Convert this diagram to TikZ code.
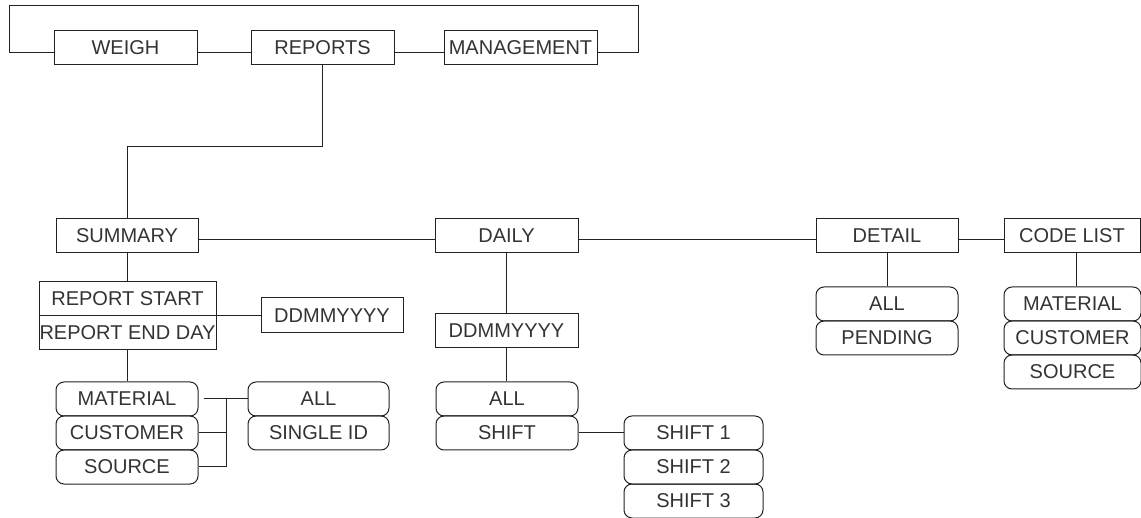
\documentclass[tikz,border=0pt]{standalone}
\usepackage{fontspec}
\setmainfont{Liberation Sans}
\definecolor{linec}{HTML}{222222}
\definecolor{txt}{HTML}{333333}
\tikzset{
  box/.style={draw=linec, line width=1pt, minimum height=34pt, inner sep=0pt,
    text=txt, font=\fontsize{20}{23}\selectfont},
  rbox/.style={box, rounded corners=8pt},
  conn/.style={draw=linec, line width=1pt},
}
\begin{document}
\begin{tikzpicture}[x=1pt,y=-1pt]
\useasboundingbox (0,0) rectangle (1141,518);
% top row
\node[box, minimum width=143pt] (weigh) at (125.5,48) {WEIGH};
\node[box, minimum width=143pt] (reports) at (322.5,48) {REPORTS};
\node[box, minimum width=153pt] (manage) at (520.5,48) {MANAGEMENT};
\coordinate (lt) at (9,6);
\coordinate (rt) at (638,6);
\draw[conn] ([yshift=-5pt]weigh.west) -| (lt) -- (rt) |- ([yshift=-5pt]manage.east);
\draw[conn] ([yshift=-5pt]weigh.east) -- ([yshift=-5pt]reports.west);
\draw[conn] ([yshift=-5pt]reports.east) -- ([yshift=-5pt]manage.west);
% second row
\node[box, minimum width=142pt] (summary) at (127,236) {SUMMARY};
\node[box, minimum width=143pt] (daily) at (506.5,236) {DAILY};
\node[box, minimum width=142pt] (detail) at (887,236) {DETAIL};
\node[box, minimum width=136pt] (codelist) at (1072,236) {CODE LIST};
\coordinate (rj) at (323,147);
\draw[conn] (reports.south) -- (reports.south |- rj) -| (summary.north);
\draw[conn] ([yshift=-4pt]summary.east) -- ([yshift=-4pt]daily.west);
\draw[conn] ([yshift=-4pt]daily.east) -- ([yshift=-4pt]detail.west);
\draw[conn] ([yshift=-4pt]detail.east) -- ([yshift=-4pt]codelist.west);
% summary branch
\node[box, minimum width=177pt] (rstart) at (127.5,299) {REPORT START};
\node[box, minimum width=177pt] (rend) at (127.5,333) {REPORT END DAY};
\node[box, minimum width=142pt, minimum height=35pt] (dd1) at (332,315.5) {DDMMYYYY};
\draw[conn] (summary.south) -- (summary.south |- rstart.north);
\draw[conn] (dd1.west) -- (dd1.west -| rstart.east);
\node[rbox, minimum width=142pt] (mat1) at (127,399) {MATERIAL};
\node[rbox, minimum width=142pt] (cust1) at (127,433) {CUSTOMER};
\node[rbox, minimum width=142pt] (src1) at (127,467) {SOURCE};
\draw[conn] (rend.south) -- (rend.south |- mat1.north);
\node[rbox, minimum width=141pt] (all1) at (318.5,399) {ALL};
\node[rbox, minimum width=141pt] (single1) at (318.5,433) {SINGLE ID};
\coordinate (j1) at (226,399);
\draw[conn] ([xshift=5pt]mat1.east) -- (all1.west);
\draw[conn] (j1) |- (src1.east);
\draw[conn] (cust1.east) -- (cust1.east -| j1);
% daily branch
\node[box, minimum width=143pt] (dd2) at (506.5,331) {DDMMYYYY};
\draw[conn] (daily.south) -- (dd2.north);
\node[rbox, minimum width=142pt] (all2) at (507,399) {ALL};
\node[rbox, minimum width=142pt] (shift) at (507,433) {SHIFT};
\draw[conn] (dd2.south) -- (dd2.south |- all2.north);
\node[rbox, minimum width=139pt] (s1) at (693.5,433) {SHIFT 1};
\node[rbox, minimum width=139pt] (s2) at (693.5,467) {SHIFT 2};
\node[rbox, minimum width=139pt] (s3) at (693.5,501) {SHIFT 3};
\draw[conn] (shift.east) -- (s1.west);
% detail branch
\node[rbox, minimum width=142pt] (all3) at (887,304) {ALL};
\node[rbox, minimum width=142pt] (pend) at (887,338) {PENDING};
\draw[conn] (detail.south) -- (all3.north);
% code list branch
\node[rbox, minimum width=137pt] (mat3) at (1072.5,304) {MATERIAL};
\node[rbox, minimum width=137pt] (cust3) at (1072.5,338) {CUSTOMER};
\node[rbox, minimum width=137pt] (src3) at (1072.5,372) {SOURCE};
\draw[conn] ([xshift=4pt]codelist.south) -- ([xshift=4pt]codelist.south |- mat3.north);
\end{tikzpicture}
\end{document}
